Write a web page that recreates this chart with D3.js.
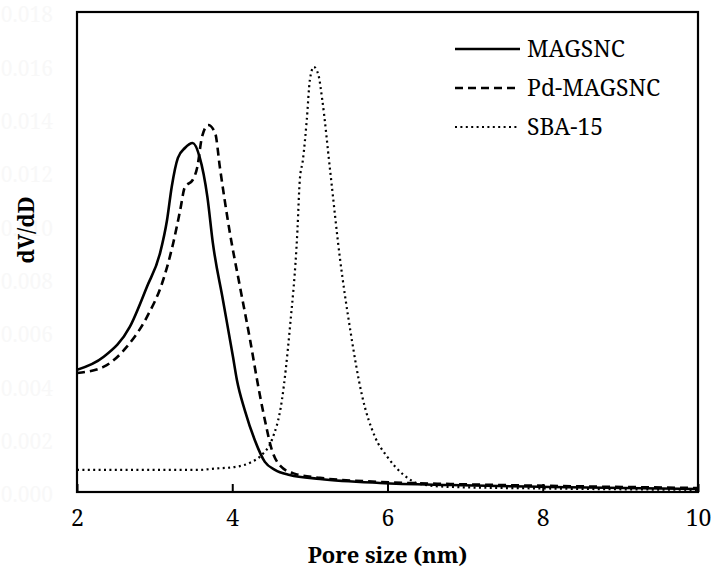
<!DOCTYPE html>
<html>
<head>
<meta charset="utf-8">
<script src="https://cdn.jsdelivr.net/npm/d3@7"></script>
<style>
  html, body { margin: 0; padding: 0; background: #fff; }
  svg { display: block; }
</style>
</head>
<body>
<svg id="chart" width="713" height="574"></svg>
<script>
// Pore size distribution (BJH) for the three samples
const poreSize_MAGSNC = [2.00, 2.34, 2.68, 2.90, 3.07, 3.16, 3.22, 3.30, 3.39, 3.49, 3.58, 3.68, 3.75, 3.88, 4.01, 4.06, 4.16, 4.29, 4.42, 4.55, 4.74, 5.13, 5.90, 6.81, 8.10, 10.0];
const dVdD_MAGSNC     = [0.00458, 0.00506, 0.00619, 0.00769, 0.00896, 0.01020, 0.01144, 0.01253, 0.01290, 0.01309, 0.01256, 0.01106, 0.00934, 0.00720, 0.00506, 0.00420, 0.00308, 0.00195, 0.00113, 0.00083, 0.00064, 0.00049, 0.00034, 0.00026, 0.00019, 0.00011];

const poreSize_Pd = [2.00, 2.34, 2.64, 2.90, 3.11, 3.24, 3.33, 3.39, 3.49, 3.55, 3.61, 3.69, 3.78, 3.84, 3.97, 4.10, 4.23, 4.32, 4.42, 4.51, 4.62, 4.81, 5.13, 5.90, 6.81, 8.10, 10.0];
const dVdD_Pd     = [0.00446, 0.00469, 0.00544, 0.00656, 0.00795, 0.00934, 0.01058, 0.01144, 0.01170, 0.01219, 0.01331, 0.01376, 0.01346, 0.01219, 0.00971, 0.00769, 0.00570, 0.00420, 0.00270, 0.00158, 0.00098, 0.00068, 0.00053, 0.00038, 0.00030, 0.00023, 0.00015];

const poreSize_SBA = [2.00, 2.94, 3.58, 3.78, 4.04, 4.23, 4.38, 4.51, 4.64, 4.74, 4.84, 4.87, 4.91, 4.96, 5.00, 5.05, 5.11, 5.16, 5.26, 5.39, 5.52, 5.67, 5.84, 6.00, 6.21, 6.42, 6.81, 8.10, 10.0];
const dVdD_SBA     = [0.00083, 0.00083, 0.00083, 0.00088, 0.00094, 0.00110, 0.00139, 0.00195, 0.00345, 0.00608, 0.00983, 0.01170, 0.01245, 0.01395, 0.01545, 0.01594, 0.01564, 0.01470, 0.01208, 0.00870, 0.00608, 0.00364, 0.00206, 0.00131, 0.00064, 0.00030, 0.00019, 0.00013, 0.00008];

const seriesNames = ["MAGSNC", "Pd-MAGSNC", "SBA-15"];
const xTicks = [2, 4, 6, 8, 10];
const yTicks = [0, 0.002, 0.004, 0.006, 0.008, 0.010, 0.012, 0.014, 0.016, 0.018];

const FONT = "'Noto Serif', 'DejaVu Serif', serif";

const series = [
  { name: seriesNames[0], x: poreSize_MAGSNC, y: dVdD_MAGSNC, dash: null, width: 2.6 },
  { name: seriesNames[1], x: poreSize_Pd, y: dVdD_Pd, dash: "8,5", width: 2.6 },
  { name: seriesNames[2], x: poreSize_SBA, y: dVdD_SBA, dash: "2,3.4", width: 2.2 }
];

const svg = d3.select("#chart");
const plot = { left: 77, right: 698, top: 12, bottom: 492 };

const x = d3.scaleLinear().domain([2, 10]).range([plot.left, plot.right]);
const y = d3.scaleLinear().domain([0, 0.018]).range([plot.bottom, plot.top]);

// Series curves, clipped to the frame
svg.append("clipPath").attr("id", "clip")
  .append("rect")
  .attr("x", plot.left).attr("y", plot.top)
  .attr("width", plot.right - plot.left).attr("height", plot.bottom - plot.top);

const line = d3.line()
  .x(d => x(d[0]))
  .y(d => y(d[1]))
  .curve(d3.curveMonotoneX);

const curves = svg.append("g").attr("clip-path", "url(#clip)");
series.forEach(s => {
  curves.append("path")
    .datum(s.x.map((v, i) => [v, s.y[i]]))
    .attr("d", line)
    .attr("fill", "none")
    .attr("stroke", "#000")
    .attr("stroke-width", s.width)
    .attr("stroke-dasharray", s.dash);
});

// Bottom axis: ticks point inward, labels below
const xAxis = d3.axisBottom(x).tickValues(xTicks).tickSize(0).tickPadding(18).tickFormat(d3.format("d"));
const gx = svg.append("g").attr("transform", `translate(0,${plot.bottom})`).call(xAxis);
gx.attr("font-family", FONT).attr("font-size", 23);
gx.select(".domain").remove();
gx.selectAll("text").attr("fill", "#000");
gx.selectAll(".tick").append("line").attr("y1", 0).attr("y2", -8).attr("stroke", "#000").attr("stroke-width", 2);

// Left axis labels, drawn in a near-white grey
const yAxis = d3.axisLeft(y).tickValues(yTicks).tickSize(0).tickPadding(24).tickFormat(d3.format(".3f"));
const gy = svg.append("g").attr("transform", `translate(${plot.left},3)`).call(yAxis);
gy.attr("font-family", FONT).attr("font-size", 21);
gy.select(".domain").remove();
gy.selectAll("text").attr("fill", "#f8f8f8");

// Frame
svg.append("rect")
  .attr("x", plot.left).attr("y", plot.top)
  .attr("width", plot.right - plot.left).attr("height", plot.bottom - plot.top)
  .attr("fill", "none").attr("stroke", "#000").attr("stroke-width", 2.2);

// Axis titles
svg.append("text")
  .attr("x", (plot.left + plot.right) / 2).attr("y", 563)
  .attr("text-anchor", "middle").attr("font-size", 22).attr("font-weight", "bold")
  .attr("font-family", FONT)
  .text("Pore size (nm)");

svg.append("text")
  .attr("transform", "translate(34,230) rotate(-90)")
  .attr("text-anchor", "middle").attr("font-size", 22).attr("font-weight", "bold")
  .attr("font-family", FONT)
  .text("dV/dD");

// Legend
const legend = svg.append("g").attr("font-family", FONT).attr("font-size", 23);
const legendY = [49, 88, 127];
series.forEach((s, i) => {
  legend.append("line")
    .attr("x1", 455).attr("x2", i === 2 ? 517 : 520)
    .attr("y1", legendY[i]).attr("y2", legendY[i])
    .attr("stroke", "#000").attr("stroke-width", s.width)
    .attr("stroke-dasharray", s.dash);
  legend.append("text")
    .attr("x", 527).attr("y", legendY[i] + 8)
    .text(s.name);
});
</script>
</body>
</html>
